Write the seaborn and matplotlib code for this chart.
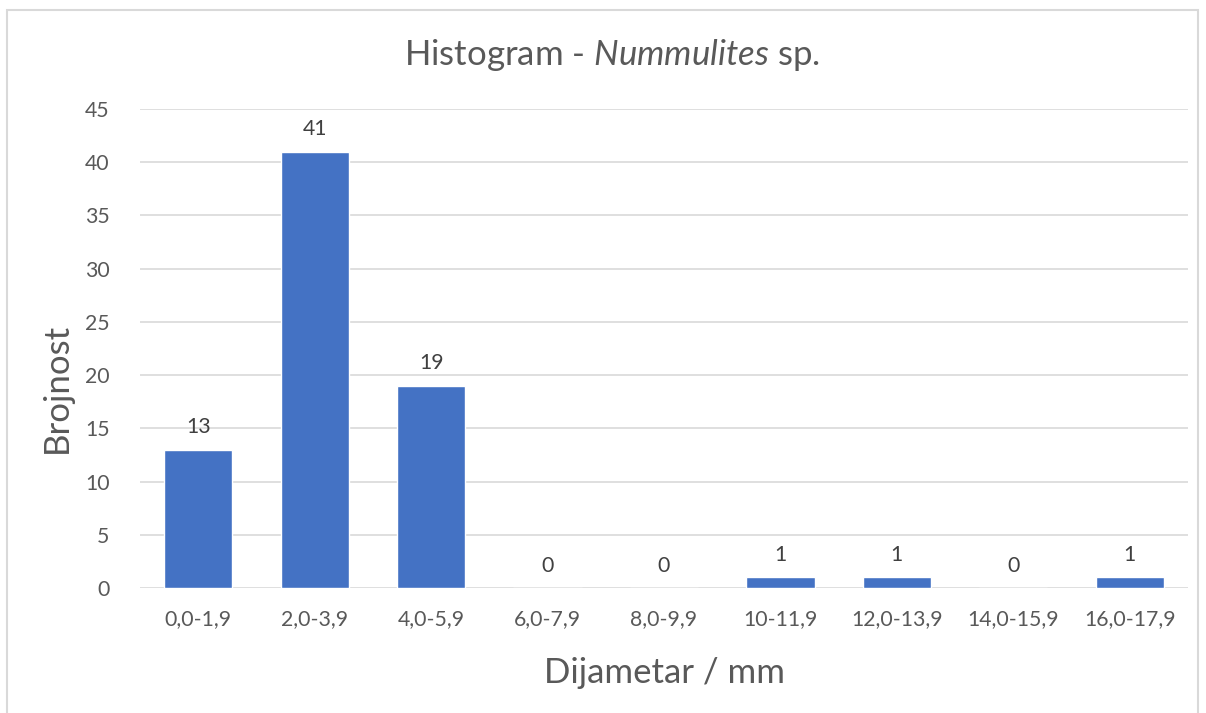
import matplotlib
matplotlib.use("Agg")
import matplotlib.pyplot as plt
import seaborn as sns
import pandas as pd
from matplotlib.patches import Rectangle

categories = ["0,0-1,9", "2,0-3,9", "4,0-5,9", "6,0-7,9", "8,0-9,9",
              "10-11,9", "12,0-13,9", "14,0-15,9", "16,0-17,9"]
counts = [13, 41, 19, 0, 0, 1, 1, 0, 1]
y_ticks = [0, 5, 10, 15, 20, 25, 30, 35, 40, 45]

BAR_COLOR = "#4472C4"
TEXT_COLOR = "#595959"
FONT = "Lato"

sns.set_theme(style="white")
plt.rcParams["font.family"] = [FONT, "DejaVu Sans"]
plt.rcParams["mathtext.fontset"] = "custom"
plt.rcParams["mathtext.rm"] = FONT
plt.rcParams["mathtext.it"] = FONT + ":italic"

df = pd.DataFrame({"Dijametar": categories, "Brojnost": counts})

fig = plt.figure(figsize=(12.06, 7.13), dpi=100)
ax = fig.add_axes([140 / 1206, 1 - 588 / 713, (1188 - 140) / 1206, (588 - 109) / 713])

sns.barplot(data=df, x="Dijametar", y="Brojnost", color=BAR_COLOR,
            saturation=1, width=0.585, ax=ax)

ax.set_ylim(0, 45)
ax.set_xlim(-0.5, len(categories) - 0.5)
ax.set_yticks(y_ticks)
ax.grid(axis="y", color="#D9D9D9", linewidth=1.2)
ax.set_axisbelow(True)
for s in ax.spines.values():
    s.set_visible(False)
ax.tick_params(axis="x", length=0, labelsize=15.3, colors=TEXT_COLOR, pad=15)
ax.tick_params(axis="y", length=0, labelsize=15.3, colors=TEXT_COLOR, pad=22)

for cont in ax.containers:
    ax.bar_label(cont, fmt="%d", padding=9, fontsize=15.3, color="#404040")

ax.set_xlabel("Dijametar / mm", fontsize=25, color=TEXT_COLOR, labelpad=20)
ax.set_ylabel("Brojnost", fontsize=25, color=TEXT_COLOR, va="center")
ax.yaxis.set_label_coords(-0.079, 0.4175)

fig.text(612 / 1206, 1 - 55 / 713,
         r"Histogram - $\it{Nummulites}$ sp.", fontsize=25,
         color=TEXT_COLOR, ha="center", va="center")

# chart frame
fig.patches.append(Rectangle((7 / 1206, -0.05), (1198 - 7) / 1206, 1.05 - 10 / 713,
                             transform=fig.transFigure, fill=False,
                             edgecolor="#D9D9D9", linewidth=1.5))

fig.savefig("out.png", dpi=100)
plt.close(fig)
